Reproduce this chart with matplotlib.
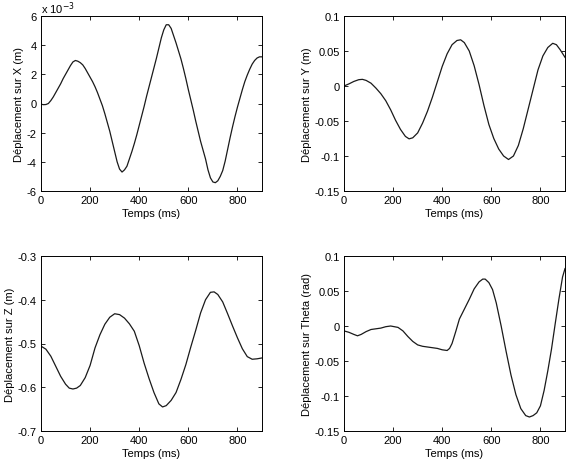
import matplotlib
matplotlib.use('Agg')
import matplotlib.pyplot as plt

plt.rcParams['font.family'] = ['Liberation Sans', 'DejaVu Sans']
plt.rcParams['font.size'] = 8

# values (time in ms)
t_x = [0, 10, 20, 30, 40, 50, 60, 70, 80, 90, 100, 110, 120, 130, 140, 150, 160, 170, 180, 190,
       200, 210, 220, 230, 240, 250, 260, 270, 280, 290, 300, 310, 320, 330, 340, 350, 360, 370,
       380, 390, 400, 410, 420, 430, 440, 450, 460, 470, 480, 490, 500, 510, 520, 530, 540, 550,
       560, 570, 580, 590, 600, 610, 620, 630, 640, 650, 660, 670, 680, 690, 700, 710, 720, 730,
       740, 750, 760, 770, 780, 790, 800, 810, 820, 830, 840, 850, 860, 870, 880, 890, 900]
x_disp = [-0.05, -0.08, -0.07, 0.0, 0.2, 0.45, 0.75, 1.05, 1.35, 1.7, 2.0, 2.3, 2.6, 2.85, 2.95,
          2.9, 2.8, 2.65, 2.4, 2.1, 1.8, 1.5, 1.15, 0.75, 0.3, -0.15, -0.7, -1.3, -1.9, -2.6, -3.3,
          -4.0, -4.5, -4.7, -4.55, -4.3, -3.8, -3.3, -2.75, -2.15, -1.5, -0.85, -0.2, 0.5, 1.15,
          1.8, 2.45, 3.1, 3.8, 4.5, 5.05, 5.4, 5.4, 5.15, 4.65, 4.15, 3.6, 3.05, 2.4, 1.7, 0.95,
          0.25, -0.45, -1.2, -1.9, -2.6, -3.2, -3.8, -4.55, -5.1, -5.38, -5.43, -5.3, -5.0, -4.6,
          -3.95, -3.15, -2.35, -1.6, -0.9, -0.25, 0.35, 0.95, 1.5, 1.95, 2.35, 2.7, 2.95, 3.12,
          3.2, 3.2]

t_y = [0, 20, 40, 60, 75, 90, 110, 130, 150, 170, 190, 210, 230, 250, 265, 280, 300, 320, 340,
       360, 380, 400, 420, 440, 460, 475, 490, 510, 530, 550, 570, 590, 610, 630, 650, 670, 690,
       710, 730, 750, 770, 790, 810, 830, 850, 865, 880, 900]
y_disp = [0.0, 0.003, 0.0065, 0.009, 0.0095, 0.008, 0.004, -0.003, -0.011, -0.021, -0.034,
          -0.049, -0.062, -0.072, -0.0755, -0.074, -0.067, -0.053, -0.036, -0.016, 0.006, 0.028,
          0.046, 0.059, 0.065, 0.066, 0.062, 0.050, 0.029, 0.002, -0.028, -0.055, -0.075, -0.09,
          -0.1, -0.105, -0.1, -0.085, -0.061, -0.033, -0.005, 0.023, 0.043, 0.055, 0.061, 0.059,
          0.052, 0.041]

t_z = [0, 20, 40, 60, 80, 100, 115, 130, 145, 160, 180, 200, 220, 240, 260, 280, 300, 320, 340,
       360, 380, 400, 420, 440, 460, 480, 495, 510, 530, 550, 570, 590, 610, 630, 650, 670, 690,
       705, 720, 740, 760, 780, 800, 820, 840, 860, 880, 900]
z_disp = [-0.506, -0.513, -0.529, -0.552, -0.575, -0.593, -0.602, -0.604, -0.602, -0.596, -0.578,
          -0.550, -0.510, -0.480, -0.456, -0.440, -0.432, -0.434, -0.442, -0.455, -0.472, -0.505,
          -0.545, -0.580, -0.612, -0.638, -0.645, -0.642, -0.630, -0.612, -0.582, -0.548, -0.508,
          -0.470, -0.430, -0.400, -0.383, -0.382, -0.388, -0.405, -0.432, -0.460, -0.487, -0.512,
          -0.530, -0.536, -0.535, -0.533]

t_th = [0, 20, 40, 55, 70, 90, 110, 130, 150, 170, 190, 205, 220, 240, 260, 280, 300, 320, 340,
        360, 380, 400, 420, 430, 440, 455, 470, 490, 510, 530, 550, 565, 575, 590, 605, 620, 640,
        660, 680, 700, 720, 740, 755, 770, 785, 800, 815, 830, 845, 860, 875, 890, 900]
th_disp = [-0.007, -0.009, -0.012, -0.014, -0.012, -0.008, -0.005, -0.004, -0.003, -0.001, 0.0,
           -0.001, -0.002, -0.007, -0.015, -0.022, -0.027, -0.029, -0.03, -0.031, -0.032, -0.034,
           -0.035, -0.032, -0.025, -0.008, 0.01, 0.024, 0.038, 0.053, 0.063, 0.067, 0.067, 0.062,
           0.052, 0.033, 0.0, -0.036, -0.07, -0.098, -0.118, -0.128, -0.13, -0.128, -0.124,
           -0.114, -0.092, -0.064, -0.033, 0.003, 0.038, 0.07, 0.082]

panels = [
    (t_x, x_disp, 'Déplacement sur X (m)', (-6, 6), [-6, -4, -2, 0, 2, 4, 6],
     ['-6', '-4', '-2', '0', '2', '4', '6']),
    (t_y, y_disp, 'Déplacement sur Y (m)', (-0.15, 0.1), [-0.15, -0.1, -0.05, 0, 0.05, 0.1],
     ['-0.15', '-0.1', '-0.05', '0', '0.05', '0.1']),
    (t_z, z_disp, 'Déplacement sur Z (m)', (-0.7, -0.3), [-0.7, -0.6, -0.5, -0.4, -0.3],
     ['-0.7', '-0.6', '-0.5', '-0.4', '-0.3']),
    (t_th, th_disp, 'Déplacement sur Theta (rad)', (-0.15, 0.1), [-0.15, -0.1, -0.05, 0, 0.05, 0.1],
     ['-0.15', '-0.1', '-0.05', '0', '0.05', '0.1']),
]

W, H = 571, 460
boxes = [(41, 17), (344, 17), (41, 257), (344, 257)]
aw, ah = 221, 175

fig = plt.figure(figsize=(W / 100, H / 100), dpi=100)
for (t, v, ylabel, ylim, yticks, yticklabels), (left, top) in zip(panels, boxes):
    ax = fig.add_axes([left / W, 1 - (top + ah) / H, aw / W, ah / H])
    ax.plot(t, v, color='#1a1a1a', linewidth=0.9)
    ax.set_xlim(0, 900)
    ax.set_ylim(*ylim)
    ax.set_xticks([0, 200, 400, 600, 800])
    ax.set_yticks(yticks)
    ax.set_yticklabels(yticklabels)
    ax.tick_params(direction='in', top=True, right=True, length=3, width=0.6, pad=3)
    for s in ax.spines.values():
        s.set_linewidth(0.7)
    ax.set_xlabel('Temps (ms)', labelpad=2)
    ax.set_ylabel(ylabel, labelpad=2)
    if ylabel.endswith('X (m)'):
        ax.text(0, 1.0, r'x 10$^{-3}$', transform=ax.transAxes, ha='left', va='bottom')

fig.savefig('out.png', dpi=100)
